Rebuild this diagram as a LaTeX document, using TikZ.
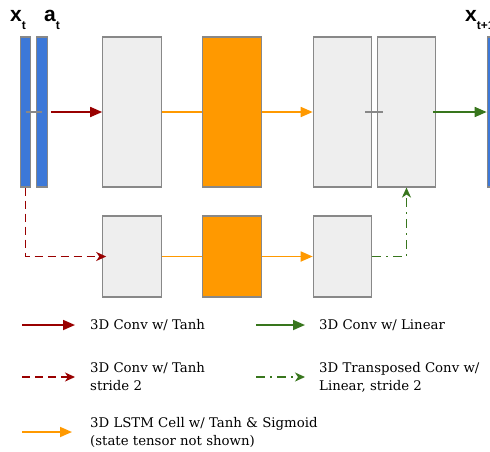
\documentclass[tikz,border=0pt]{standalone}
\usepackage{fontspec}
\newfontfamily\labelfont{Liberation Sans}
\newfontfamily\keyfont{DejaVu Serif}
\usetikzlibrary{arrows.meta}
\definecolor{barblue}{HTML}{3C78D8}
\definecolor{boxgray}{HTML}{EEEEEE}
\definecolor{edgegray}{HTML}{888888}
\definecolor{lstmorange}{HTML}{FF9900}
\definecolor{convred}{HTML}{990000}
\definecolor{lingreen}{HTML}{38761D}
\begin{document}
\begin{tikzpicture}[x=1pt, y=-1pt,
		layer/.style={draw=edgegray, line width=1.1pt, inner sep=0pt, minimum width=58.5pt},
		bar/.style={layer, fill=barblue, minimum width=10.6pt, minimum height=150pt},
		big/.style={minimum height=150pt},
		small/.style={minimum height=81pt},
		feat/.style={layer, fill=boxgray},
		cell/.style={layer, fill=lstmorange},
		lbl/.style={anchor=base west, inner sep=0pt, font=\labelfont\bfseries\fontsize{21}{21}\selectfont},
		conv/.style={convred, line width=1.7pt, -{Triangle[length=12pt, width=10pt]}},
		convs/.style={convred, line width=1.5pt, dash pattern=on 8pt off 5pt, -{Stealth[length=10pt, width=9pt, inset=3pt]}},
		lin/.style={lingreen, line width=1.7pt, -{Triangle[length=12pt, width=10pt]}},
		tconv/.style={lingreen, line width=1.5pt, dash pattern=on 9pt off 5pt on 2pt off 5pt, -{Stealth[length=10pt, width=9pt, inset=3pt]}},
		lstm/.style={lstmorange, line width=1.7pt},
		lstma/.style={lstm, -{Triangle[length=12pt, width=10pt]}},
		key/.style={anchor=west, align=left, inner sep=0pt, font=\keyfont\fontsize{13.3}{18}\selectfont}
	]
		\useasboundingbox (0,0) rectangle (490,451);
		\clip (0,0) rectangle (490,451);
		
		% Input and output frames
		\node[bar] (xt) at (25.5,112) {};
		\node[bar] (at) at (42,112) {};
		\node[bar] (xnext) at (492.5,112) {};
		\node[lbl] (xtlab) at (10,21.7) {x\raisebox{-0.35em}{\fontsize{12}{12}\selectfont t}};
		\node[lbl] (atlab) at (44,21.7) {a\raisebox{-0.35em}{\fontsize{12}{12}\selectfont t}};
		\node[lbl] (xnextlab) at (465,21.7) {x\raisebox{-0.35em}{\fontsize{12}{12}\selectfont t+1}};
		
		% Top row
		\node[feat, big] (enc1) at (132,112) {};
		\node[cell, big] (lstm1) at (232,112) {};
		\node[feat, big] (dec1) at (342.5,112) {};
		\node[feat, big] (dec2) at (406.5,112) {};
		
		% Bottom row
		\node[feat, small] (enc2) at (132,256.5) {};
		\node[cell, small] (lstm2) at (232,256.5) {};
		\node[feat, small] (dec3) at (342.5,256.5) {};
		
		% Concatenations
		\draw[edgegray, line width=1.1pt] (xt.center) -- (at.center);
		\draw[edgegray, line width=1.1pt] ([xshift=-7pt]dec1.east) -- ([xshift=6pt]dec2.west);
		
		% Connections
		\draw[conv, shorten <=3pt] (at.east) -- (enc1.west);
		\draw[lstm] (enc1.east) -- (lstm1.west);
		\draw[lstma] (lstm1.east) -- (dec1.west);
		\draw[lin, shorten <=-3pt] (dec2.east) -- (xnext.west);
		\draw[convs, shorten >=-4pt] (xt.south) |- (enc2.west);
		\draw[lstm] (enc2.east) -- (lstm2.west);
		\draw[lstma] (lstm2.east) -- (dec3.west);
		\draw[tconv] (dec3.east) -| (dec2.south);
		
		% Legend
		\coordinate (k1a) at (22,325);  \coordinate (k1b) at (75,325);
		\coordinate (k2a) at (256,325); \coordinate (k2b) at (305,325);
		\coordinate (k3a) at (22,377);  \coordinate (k3b) at (75,377);
		\coordinate (k4a) at (256,377); \coordinate (k4b) at (305,377);
		\coordinate (k5a) at (22,432);  \coordinate (k5b) at (72,432);
		\draw[conv] (k1a) -- (k1b);
		\draw[lin] (k2a) -- (k2b);
		\draw[convs] (k3a) -- (k3b);
		\draw[tconv] (k4a) -- (k4b);
		\draw[lstma] (k5a) -- (k5b);
		\node[key] (t1) at (90,325) {3D Conv w/ Tanh};
		\node[key] (t2) at (319,325) {3D Conv w/ Linear};
		\node[key] (t3) at (90,377) {3D Conv w/ Tanh\\stride 2};
		\node[key] (t4) at (319,377) {3D Transposed Conv w/\\Linear, stride 2};
		\node[key] (t5) at (90,432) {3D LSTM Cell w/ Tanh \& Sigmoid\\(state tensor not shown)};
	\end{tikzpicture}
\end{document}
